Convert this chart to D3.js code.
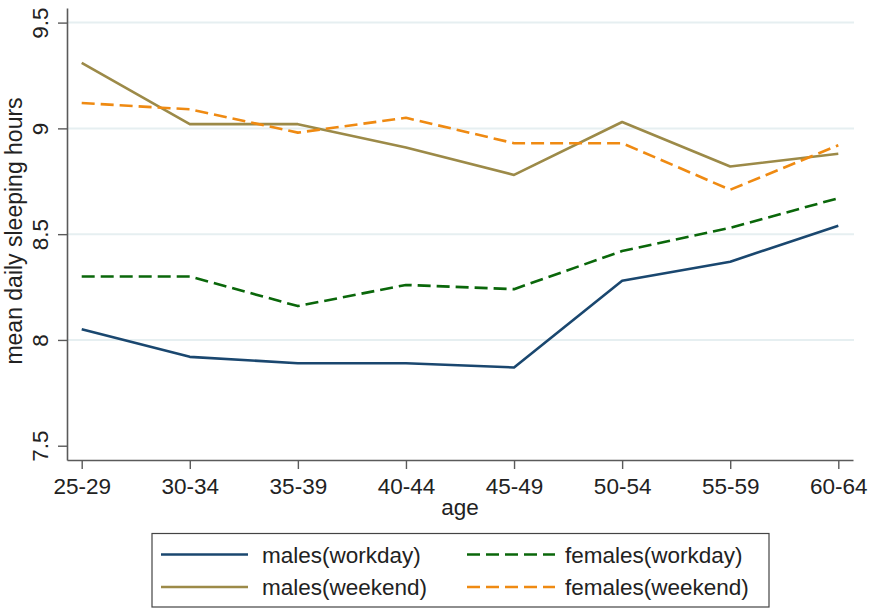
<!DOCTYPE html>
<html>
<head>
<meta charset="utf-8">
<script src="https://cdn.jsdelivr.net/npm/d3@7"></script>
<style>
  html, body { margin: 0; padding: 0; background: #fff; }
  svg { display: block; font-family: "Liberation Sans", Arial, Helvetica, sans-serif; }
</style>
</head>
<body>
<svg id="chart" width="870" height="608"></svg>
<script>
// Age groups along the x axis
const ageGroups = ["25-29", "30-34", "35-39", "40-44", "45-49", "50-54", "55-59", "60-64"];

// Mean daily sleeping hours by group
const malesWorkday   = [8.05, 7.92, 7.89, 7.89, 7.87, 8.28, 8.37, 8.54];
const femalesWorkday = [8.30, 8.30, 8.16, 8.26, 8.24, 8.42, 8.53, 8.67];
const malesWeekend   = [9.31, 9.02, 9.02, 8.91, 8.78, 9.03, 8.82, 8.88];
const femalesWeekend = [9.12, 9.09, 8.98, 9.05, 8.93, 8.93, 8.71, 8.92];

// Axis ticks
const yTicks = [7.5, 8, 8.5, 9, 9.5];
const yGrid = [8, 8.5, 9, 9.5];

const seriesNames = ["males(workday)", "females(workday)", "males(weekend)", "females(weekend)"];

const series = [
  { name: seriesNames[0], values: malesWorkday,   color: "#1a476f", dash: null },
  { name: seriesNames[1], values: femalesWorkday, color: "#0a670a", dash: "13,6" },
  { name: seriesNames[2], values: malesWeekend,   color: "#9c8a48", dash: null },
  { name: seriesNames[3], values: femalesWeekend, color: "#ef8a12", dash: "13,6" }
];

const svg = d3.select("#chart");
const plot = { left: 67, right: 853, top: 8, bottom: 460 };
const fontSize = 22.5;
const axisColor = "#5a5a5a";

const x = d3.scalePoint()
  .domain(ageGroups)
  .range([plot.left, plot.right])
  .padding(0.136);

const y = d3.scaleLinear()
  .domain([7.4325, 9.569])
  .range([plot.bottom, plot.top]);

// Gridlines
svg.append("g")
  .selectAll("line")
  .data(yGrid)
  .join("line")
  .attr("x1", plot.left)
  .attr("x2", plot.right + 1)
  .attr("y1", d => y(d))
  .attr("y2", d => y(d))
  .attr("stroke", "#e6eff1")
  .attr("stroke-width", 2);

// Y axis
const yAxis = svg.append("g")
  .attr("transform", `translate(${plot.left},0)`)
  .call(d3.axisLeft(y).tickValues(yTicks).tickSize(9).tickSizeOuter(0).tickFormat(d3.format("")));
yAxis.select(".domain").attr("stroke", axisColor).attr("stroke-width", 1.6);
yAxis.selectAll(".tick line").attr("stroke", axisColor).attr("stroke-width", 1.4);
yAxis.selectAll(".tick text")
  .attr("fill", "#222")
  .attr("font-size", fontSize)
  .attr("text-anchor", "middle")
  .attr("x", null).attr("dy", null)
  .attr("transform", "translate(-19,0) rotate(-90)");

// X axis
const xAxis = svg.append("g")
  .attr("transform", `translate(0,${plot.bottom})`)
  .call(d3.axisBottom(x).tickSize(9).tickSizeOuter(0));
xAxis.select(".domain").attr("stroke", axisColor).attr("stroke-width", 1.6);
xAxis.selectAll(".tick line").attr("stroke", axisColor).attr("stroke-width", 1.4);
xAxis.selectAll(".tick text")
  .attr("fill", "#222")
  .attr("font-size", fontSize)
  .attr("dy", null)
  .attr("y", 33.5);

// Axis titles
svg.append("text")
  .attr("x", (plot.left + plot.right) / 2)
  .attr("y", 515)
  .attr("text-anchor", "middle")
  .attr("font-size", fontSize)
  .attr("fill", "#222")
  .text("age");

svg.append("text")
  .attr("transform", "translate(22,231) rotate(-90)")
  .attr("text-anchor", "middle")
  .attr("font-size", 23)
  .attr("fill", "#222")
  .text("mean daily sleeping hours");

// Lines
const line = d3.line()
  .x((d, i) => x(ageGroups[i]))
  .y(d => y(d));

svg.append("g")
  .selectAll("path")
  .data(series)
  .join("path")
  .attr("d", d => line(d.values))
  .attr("fill", "none")
  .attr("stroke", d => d.color)
  .attr("stroke-width", 2.6)
  .attr("stroke-linejoin", "round")
  .attr("stroke-dasharray", d => d.dash);

// Legend
const legend = svg.append("g");
legend.append("rect")
  .attr("x", 152).attr("y", 533.5)
  .attr("width", 617).attr("height", 73.5)
  .attr("fill", "#fff")
  .attr("stroke", "#444")
  .attr("stroke-width", 1.2);

const cols = [{ x1: 161, x2: 248, tx: 262 }, { x1: 467, x2: 555, tx: 565 }];
const rows = [554.5, 587];
series.forEach((s, i) => {
  const c = cols[i % 2];
  const r = rows[Math.floor(i / 2)];
  legend.append("line")
    .attr("x1", c.x1).attr("x2", c.x2)
    .attr("y1", r).attr("y2", r)
    .attr("stroke", s.color)
    .attr("stroke-width", 2.6)
    .attr("stroke-dasharray", s.dash);
  legend.append("text")
    .attr("x", c.tx)
    .attr("y", r + 8)
    .attr("font-size", fontSize)
    .attr("fill", "#222")
    .text(s.name);
});
</script>
</body>
</html>
